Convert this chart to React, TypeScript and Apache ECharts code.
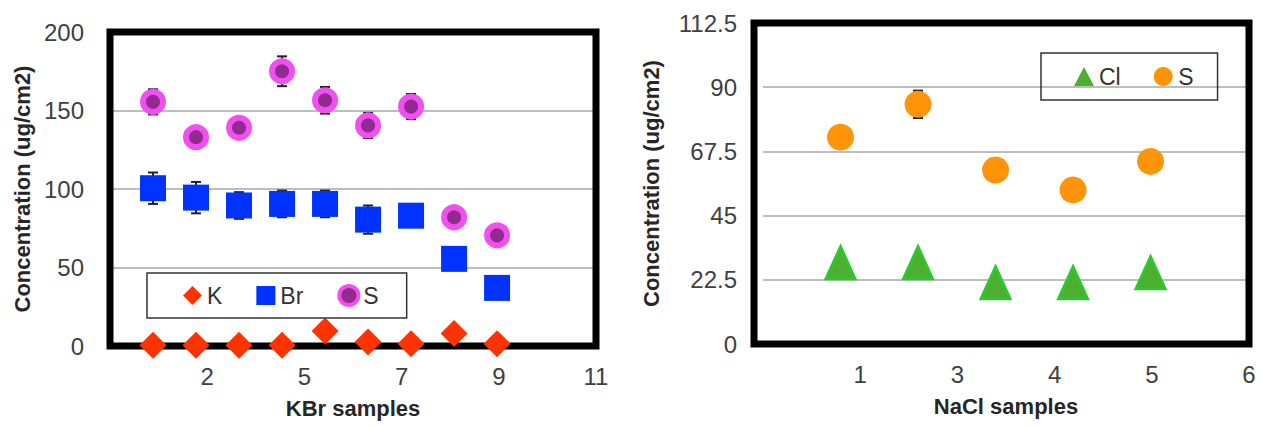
import React, { useEffect, useRef } from "react";
import * as echarts from "echarts";

const FONT = "Liberation Sans, Arial, sans-serif";

// Left chart: KBr samples
const kbrSamples = [1, 2, 3, 4, 5, 6, 7, 8, 9];
const kbrK = [0.5, 0.5, 0.5, 0.5, 9.5, 2.5, 1.5, 8, 1.5];
const kbrBr = [100.5, 94.5, 89.5, 90.5, 90.5, 80.5, 83, 55.5, 37];
const kbrBrErr = [10, 10, 8.5, 8.5, 8.5, 9, 5, 3, 3];
const kbrS = [155.5, 133, 139, 175, 156.5, 140.5, 152.5, 82, 70.5];
const kbrSErr = [8, 4, 4, 9.5, 8.5, 8, 8, 3, 3];
const kbrXTicks = ["", "2", "5", "7", "9", "11"];
const kbrXMax = 11.3;

// Right chart: NaCl samples
const naclSamples = [1, 2, 3, 4, 5];
const naclCl = [28.5, 28.5, 21.5, 21.5, 25];
const naclS = [72.5, 84, 61, 54, 64];
const naclSErr = [2, 4.8, 2, 2, 2];
const naclXTicks = ["", "1", "3", "4", "5", "6"];
const naclXMax = 6.27;

const pairs = (xs: number[], ys: number[]) => xs.map((x, i) => [x, ys[i]]);
const triples = (xs: number[], ys: number[], es: number[]) => xs.map((x, i) => [x, ys[i], es[i]]);

const errorSeries = (name: string, data: number[][]) => ({
  type: "custom",
  name,
  z: 2,
  silent: true,
  encode: { x: 0, y: 1 },
  data,
  renderItem: (params: any, api: any) => {
    const x = api.value(0);
    const y = api.value(1);
    const e = api.value(2);
    const top = api.coord([x, y + e]);
    const bot = api.coord([x, y - e]);
    const half = 5;
    const style = { stroke: "#222", lineWidth: 2 };
    return {
      type: "group",
      children: [
        { type: "line", shape: { x1: top[0], y1: top[1], x2: bot[0], y2: bot[1] }, style },
        { type: "line", shape: { x1: top[0] - half, y1: top[1], x2: top[0] + half, y2: top[1] }, style },
        { type: "line", shape: { x1: bot[0] - half, y1: bot[1], x2: bot[0] + half, y2: bot[1] }, style },
      ],
    };
  },
});

const axisLabelStyle = { fontSize: 24, color: "#404040", fontFamily: FONT };
const axisNameStyle = { fontSize: 22, fontWeight: "bold", color: "#262626", fontFamily: FONT };

function makeXAxis(name: string, max: number, ticks: string[]) {
  const interval = max / 5;
  return {
    type: "value",
    min: 0,
    max,
    interval,
    name,
    nameLocation: "middle",
    nameGap: 51,
    nameTextStyle: axisNameStyle,
    axisLine: { show: false },
    axisTick: { show: false },
    splitLine: { show: false },
    axisLabel: {
      ...axisLabelStyle,
      margin: 18,
      showMinLabel: true,
      showMaxLabel: true,
      formatter: (v: number) => ticks[Math.round(v / interval)] ?? "",
    },
  };
}

function makeYAxis(max: number, interval: number, nameGap: number) {
  return {
    type: "value",
    min: 0,
    max,
    interval,
    name: "Concentration (ug/cm2)",
    nameLocation: "middle",
    nameGap,
    nameTextStyle: axisNameStyle,
    axisLine: { show: false },
    axisTick: { show: false },
    splitLine: { show: true, lineStyle: { color: "#bdbdbd", width: 2 } },
    axisLabel: { ...axisLabelStyle, margin: 26 },
  };
}

const frame = (x: number, y: number, w: number, h: number) => ({
  type: "rect",
  z: 1,
  silent: true,
  shape: { x, y, width: w, height: h },
  style: { fill: "none", stroke: "#000", lineWidth: 7 },
});

const legendText = { fontSize: 23, color: "#333", fontFamily: FONT };

const LG = { left: 110, top: 32, width: 486, height: 314 };
const RG = { left: 122, top: 23, width: 495, height: 321 };

const leftOption = {
  animation: false,
  grid: { ...LG },
  graphic: [frame(LG.left, LG.top, LG.width, LG.height)],
  xAxis: makeXAxis("KBr samples", kbrXMax, kbrXTicks),
  yAxis: makeYAxis(200, 50, 76),
  legend: {
    left: 147,
    top: 273,
    orient: "horizontal",
    padding: [11, 28, 11, 36],
    itemGap: 34,
    itemWidth: 19,
    itemHeight: 19,
    borderColor: "#333",
    borderWidth: 1.5,
    backgroundColor: "#fff",
    textStyle: legendText,
    data: [
      { name: "K" },
      { name: "Br" },
      { name: "S", itemStyle: { borderWidth: 4 } },
    ],
  },
  series: [
    errorSeries("Br err", triples(kbrSamples, kbrBr, kbrBrErr)),
    errorSeries("S err", triples(kbrSamples, kbrS, kbrSErr)),
    {
      type: "scatter",
      name: "K",
      z: 3,
      symbol: "diamond",
      symbolSize: 27,
      itemStyle: { color: "#ff3300", opacity: 1 },
      data: pairs(kbrSamples, kbrK),
    },
    {
      type: "scatter",
      name: "Br",
      z: 3,
      symbol: "rect",
      symbolSize: 26,
      itemStyle: { color: "#0033ff", opacity: 1 },
      data: pairs(kbrSamples, kbrBr),
    },
    {
      type: "scatter",
      name: "S",
      z: 3,
      symbol: "circle",
      symbolSize: 20,
      itemStyle: { color: "#932a8f", borderColor: "#f050f0", borderWidth: 6, opacity: 1 },
      data: pairs(kbrSamples, kbrS),
    },
  ],
};

const rightOption = {
  animation: false,
  grid: { ...RG },
  graphic: [frame(RG.left, RG.top, RG.width, RG.height)],
  xAxis: makeXAxis("NaCl samples", naclXMax, naclXTicks),
  yAxis: makeYAxis(112.5, 22.5, 101),
  legend: {
    left: 409,
    top: 53,
    orient: "horizontal",
    padding: [12, 24, 12, 33],
    itemGap: 33,
    itemWidth: 20,
    itemHeight: 19,
    borderColor: "#333",
    borderWidth: 1.5,
    textStyle: legendText,
    data: [{ name: "Cl", itemStyle: { borderWidth: 0 } }, { name: "S" }],
  },
  series: [
    errorSeries("S err", triples(naclSamples, naclS, naclSErr)),
    {
      type: "scatter",
      name: "Cl",
      z: 3,
      symbol: "triangle",
      symbolSize: [29, 32],
      itemStyle: { color: "#4caf30", borderColor: "#2dc82d", borderWidth: 3, opacity: 1 },
      data: pairs(naclSamples, naclCl),
    },
    {
      type: "scatter",
      name: "S",
      z: 3,
      symbol: "circle",
      symbolSize: 27,
      itemStyle: { color: "#ff9408", opacity: 1 },
      data: pairs(naclSamples, naclS),
    },
  ],
};

function Chart({ option, style }: { option: any; style: React.CSSProperties }) {
  const ref = useRef<HTMLDivElement>(null);
  useEffect(() => {
    if (!ref.current) return;
    const chart = echarts.init(ref.current, undefined, { renderer: "svg" });
    chart.setOption(option);
    return () => chart.dispose();
  }, [option]);
  return <div ref={ref} style={style} />;
}

export default function App() {
  return (
    <div
      style={{
        position: "fixed",
        left: 0,
        top: 0,
        width: 1263,
        height: 426,
        background: "#fff",
      }}
    >
      <Chart option={leftOption} style={{ position: "absolute", left: 0, top: 0, width: 632, height: 426 }} />
      <Chart option={rightOption} style={{ position: "absolute", left: 632, top: 0, width: 631, height: 426 }} />
    </div>
  );
}
